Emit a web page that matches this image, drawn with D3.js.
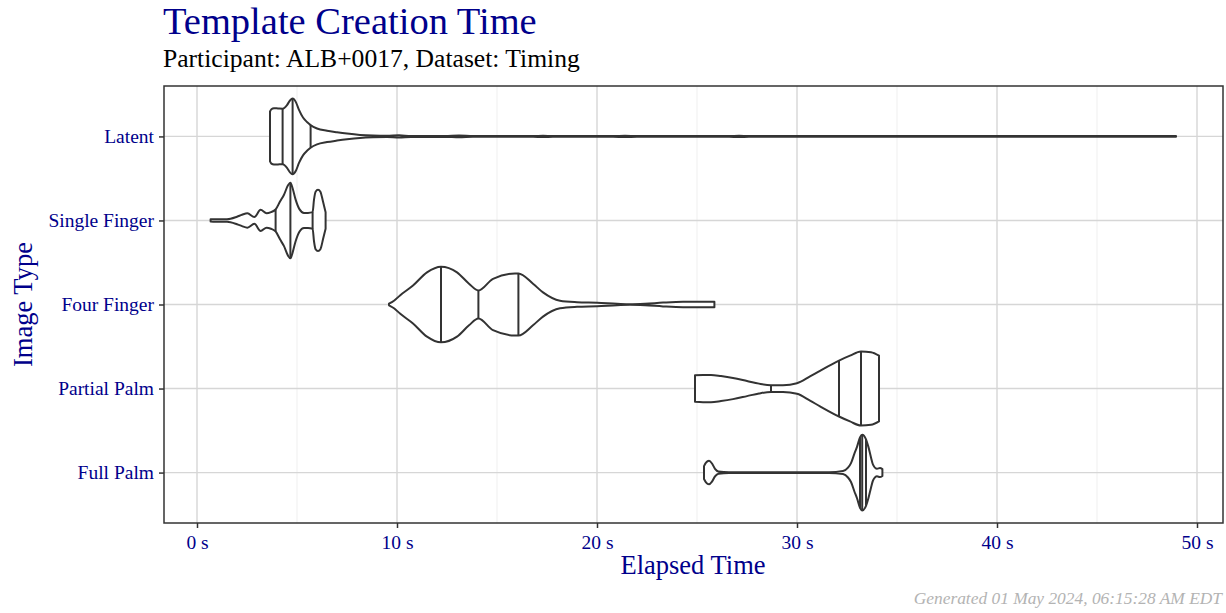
<!DOCTYPE html>
<html lang="en">
  <head>
    <meta charset="UTF-8" />
    <title>Template Creation Time</title>
    <style>
      body { margin: 0; background: #fff; }
      svg text { font-family: "Palatino Linotype", "Book Antiqua", Palatino, "Liberation Serif", serif; }
      .violin { fill: #fff; stroke: #333; stroke-width: 2px; stroke-linejoin: round; }
      .qline { stroke: #333; stroke-width: 2px; }
    </style>
  </head>
  <body>
    <div id="wrapper"></div>
    <script src="https://d3js.org/d3.v7.min.js"></script>
    <script>
      // categories, top to bottom
      var categories = ["Latent", "Single Finger", "Four Finger", "Partial Palm", "Full Palm"];

      // density outlines: [seconds, relative half width]
      var latentDensity = [[3.65,0.66],[3.72,0.72],[3.85,0.745],[4.05,0.74],[4.28,0.735],[4.5,0.83],[4.65,0.95],
        [4.78,1.0],[4.95,0.9],[5.1,0.7],[5.3,0.5],[5.5,0.38],[5.68,0.3],[6.0,0.21],[6.5,0.15],[7.0,0.11],
        [7.5,0.075],[8.15,0.04],[8.8,0.022],[9.5,0.015],[10.1,0.028],[10.7,0.012],[12.4,0.012],[13.1,0.022],
        [13.8,0.01],[16.8,0.01],[17.3,0.016],[17.8,0.01],[20.8,0.01],[21.4,0.016],[22,0.01],
        [26.6,0.01],[27.1,0.015],[27.6,0.01],[48.95,0.01]];
      var singleDensity = [[0.68,0.03],[0.9,0.035],[1.5,0.035],[2.0,0.1],[2.25,0.15],[2.52,0.19],[2.87,0.09],
        [3.18,0.28],[3.48,0.19],[3.7,0.22],[3.93,0.29],[4.15,0.5],[4.35,0.68],[4.55,0.93],[4.67,1.0],
        [4.78,0.85],[4.92,0.57],[5.12,0.3],[5.35,0.2],[5.55,0.2],[5.78,0.22],[5.85,0.55],[5.93,0.76],
        [6.05,0.81],[6.17,0.76],[6.3,0.5],[6.43,0.22]];
      var fourDensity = [[9.6,0.02],[9.85,0.1],[10.15,0.24],[10.8,0.5],[11.5,0.85],[12.2,1.0],[13.0,0.85],
        [13.6,0.55],[14.07,0.37],[14.8,0.68],[15.9,0.82],[16.07,0.82],[16.8,0.55],[17.3,0.32],[18.15,0.1],
        [19.0,0.06],[20.0,0.045],[21.0,0.02],[21.65,0.008],[22.4,0.02],[23.3,0.05],[24.3,0.07],[25.87,0.07]];
      var partialDensity = [[24.9,0.35],[25.3,0.36],[25.7,0.36],[26.2,0.33],[26.8,0.28],[27.5,0.2],[28.1,0.13],
        [28.7,0.09],[29.3,0.09],[30.0,0.14],[30.65,0.32],[31.15,0.47],[32.1,0.74],[32.65,0.87],[33.2,0.98],
        [33.7,0.96],[34.1,0.87]];
      var fullDensity = [[25.35,0.17],[25.45,0.26],[25.6,0.31],[25.75,0.24],[25.9,0.1],[26.07,0.03],
        [26.6,0.008],[31.6,0.008],[32.3,0.04],[32.55,0.13],[32.7,0.25],[32.87,0.5],[33.0,0.68],[33.15,0.93],
        [33.26,1.0],[33.45,0.88],[33.57,0.68],[33.7,0.4],[33.8,0.21],[34.0,0.1],[34.15,0.12],[34.27,0.09]];

      // 25/50/75 % quantile lines
      var latentQuant = [4.28, 4.78, 5.68];
      var singleQuant = [3.93, 4.67, 5.78];
      var fourQuant = [12.2, 14.07, 16.07];
      var partialQuant = [28.7, 32.1, 33.2];
      var fullQuant = [33.15, 33.26, 33.45];

      var xTicks = [0, 10, 20, 30, 40, 50];
      var xMinor = [5, 15, 25, 35, 45];

      var violins = [
        { cat: "Latent", dens: latentDensity, q: latentQuant },
        { cat: "Single Finger", dens: singleDensity, q: singleQuant },
        { cat: "Four Finger", dens: fourDensity, q: fourQuant },
        { cat: "Partial Palm", dens: partialDensity, q: partialQuant },
        { cat: "Full Palm", dens: fullDensity, q: fullQuant }
      ];

      var W = 1226, H = 613;
      var panel = { left: 164, right: 1223, top: 86, bottom: 523 };
      var blue = "#00008B";

      var svg = d3.select("#wrapper").append("svg")
          .attr("width", W)
          .attr("height", H);

      var x = d3.scaleLinear().domain([-1.65, 51.3]).range([panel.left, panel.right]);
      var y = d3.scalePoint().domain(categories).range([panel.top, panel.bottom]).padding(0.6);
      var half = 0.45 * y.step();

      // grid
      svg.append("g").selectAll("line").data(xMinor).join("line")
          .attr("x1", d => x(d)).attr("x2", d => x(d))
          .attr("y1", panel.top).attr("y2", panel.bottom)
          .attr("stroke", "#ebebeb").attr("stroke-width", 0.8);
      svg.append("g").selectAll("line").data(xTicks).join("line")
          .attr("x1", d => x(d)).attr("x2", d => x(d))
          .attr("y1", panel.top).attr("y2", panel.bottom)
          .attr("stroke", "#d6d6d6").attr("stroke-width", 1.4);
      svg.append("g").selectAll("line").data(categories).join("line")
          .attr("x1", panel.left).attr("x2", panel.right)
          .attr("y1", d => y(d)).attr("y2", d => y(d))
          .attr("stroke", "#d6d6d6").attr("stroke-width", 1.4);

      // violins
      var area = d3.area()
          .curve(d3.curveMonotoneX)
          .x(d => x(d[0]));

      function widthAt(dens, t) {
        for (var i = 0; i < dens.length - 1; i++) {
          var a = dens[i], b = dens[i + 1];
          if (t >= a[0] && t <= b[0]) return a[1] + (b[1] - a[1]) * (t - a[0]) / (b[0] - a[0]);
        }
        return 0;
      }

      violins.forEach(function(v) {
        var cy = y(v.cat);
        area.y0(d => cy - d[1] * half).y1(d => cy + d[1] * half);
        svg.append("path")
            .datum(v.dens)
            .attr("class", "violin")
            .attr("d", area);
        svg.append("g").selectAll("line").data(v.q).join("line")
            .attr("class", "qline")
            .attr("x1", d => x(d)).attr("x2", d => x(d))
            .attr("y1", d => cy - widthAt(v.dens, d) * half)
            .attr("y2", d => cy + widthAt(v.dens, d) * half);
      });

      // panel border
      svg.append("rect")
          .attr("x", panel.left).attr("y", panel.top)
          .attr("width", panel.right - panel.left).attr("height", panel.bottom - panel.top)
          .attr("fill", "none").attr("stroke", "#333").attr("stroke-width", 1.5);

      // axes
      var xAxis = svg.append("g")
          .attr("transform", "translate(0," + panel.bottom + ")")
          .call(d3.axisBottom(x).tickValues(xTicks).tickSize(5).tickPadding(7).tickFormat(d => d + " s"));
      var yAxis = svg.append("g")
          .attr("transform", "translate(" + panel.left + ",0)")
          .call(d3.axisLeft(y).tickSize(5).tickPadding(5));
      [xAxis, yAxis].forEach(function(g) {
        g.select(".domain").remove();
        g.selectAll(".tick line").attr("stroke", "#333").attr("stroke-width", 1.5);
        g.selectAll(".tick text").attr("fill", blue).style("font-size", "19.5px")
            .style("font-family", null);
      });

      // titles
      svg.append("text")
          .attr("x", 163).attr("y", 34)
          .attr("fill", blue).style("font-size", "38.5px")
          .text("Template Creation Time");
      svg.append("text")
          .attr("x", 163).attr("y", 67)
          .attr("fill", "#000").style("font-size", "25.6px")
          .text("Participant: ALB+0017, Dataset: Timing");
      svg.append("text")
          .attr("x", (panel.left + panel.right) / 2 - 0.5).attr("y", 574)
          .attr("text-anchor", "middle")
          .attr("fill", blue).style("font-size", "26.5px")
          .text("Elapsed Time");
      svg.append("text")
          .attr("transform", "translate(32," + ((panel.top + panel.bottom) / 2) + ") rotate(-90)")
          .attr("text-anchor", "middle")
          .attr("fill", blue).style("font-size", "26.5px")
          .text("Image Type");
      svg.append("text")
          .attr("x", 1222).attr("y", 604)
          .attr("text-anchor", "end")
          .attr("fill", "#b3b3b3").style("font-size", "17.4px").style("font-style", "italic")
          .text("Generated 01 May 2024, 06:15:28 AM EDT");
    </script>
  </body>
</html>
